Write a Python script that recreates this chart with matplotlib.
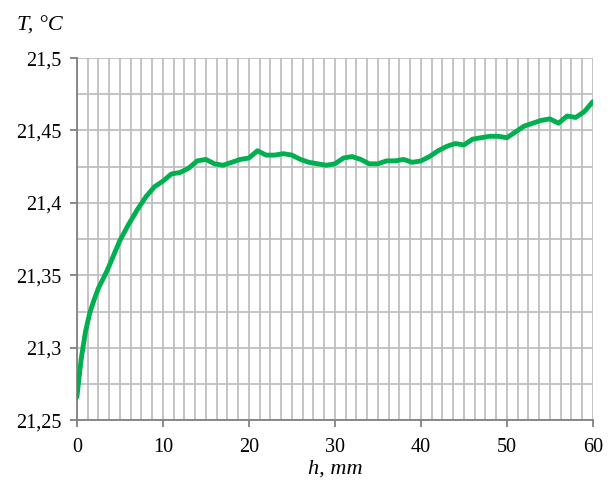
import matplotlib
matplotlib.use("Agg")
import matplotlib.pyplot as plt
import numpy as np

# Data: temperature vs. distance (denser at the start where the curve bends)
h_mm = [0, 0.5, 1, 1.5, 2, 2.5, 3, 3.5, 4, 5, 6, 7, 8, 9,
        10, 11, 12, 13, 14, 15, 16, 17, 18, 19,
        20, 21, 22, 23, 24, 25, 26, 27, 28, 29,
        30, 31, 32, 33, 34, 35, 36, 37, 38, 39,
        40, 41, 42, 43, 44, 45, 46, 47, 48, 49,
        50, 51, 52, 53, 54, 55, 56, 57, 58, 59, 60]
temp = [21.266, 21.292, 21.311, 21.324, 21.333, 21.341, 21.347, 21.353, 21.360, 21.374,
        21.385, 21.395, 21.404, 21.411,
        21.415, 21.420, 21.421, 21.424, 21.429, 21.430, 21.427, 21.426, 21.428, 21.430,
        21.431, 21.436, 21.433, 21.433, 21.434, 21.433, 21.430, 21.428, 21.427, 21.426,
        21.427, 21.431, 21.432, 21.430, 21.427, 21.427, 21.429, 21.429, 21.430, 21.428,
        21.429, 21.432, 21.436, 21.439, 21.441, 21.440, 21.444, 21.445, 21.446, 21.446,
        21.445, 21.449, 21.453, 21.455, 21.457, 21.458, 21.455, 21.460, 21.459, 21.463,
        21.470]

y_ticks = [21.25, 21.3, 21.35, 21.4, 21.45, 21.5]
y_labels = ["21,25", "21,3", "21,35", "21,4", "21,45", "21,5"]
x_ticks = [0, 10, 20, 30, 40, 50, 60]

plt.rcParams['font.family'] = ['Liberation Serif', 'DejaVu Serif']

fig = plt.figure(figsize=(6.1, 4.84), dpi=100)
ax = fig.add_axes([0.126, 0.132, 0.846, 0.748])

# Grid lines (major + minor), drawn under the curve
ax.set_xticks(np.arange(0, 60.01, 1.25), minor=True)
ax.set_yticks(np.arange(21.25, 21.501, 0.025), minor=True)
ax.grid(True, which='both', color='#bfbfbf', linewidth=1.3)
ax.set_axisbelow(True)

ax.plot(h_mm, temp, color='#00b050', linewidth=3.5, solid_capstyle='round',
        solid_joinstyle='round', zorder=3)

ax.set_xlim(0, 60)
ax.set_ylim(21.25, 21.5)
ax.set_xticks(x_ticks)
ax.set_yticks(y_ticks)
ax.set_yticklabels(y_labels)
ax.tick_params(axis='both', which='major', labelsize=14.5, length=5, width=1.3,
               color='#808080', direction='out', pad=6)
ax.tick_params(axis='x', which='major', pad=8)
ax.tick_params(axis='both', which='minor', length=0)

for s in ['top', 'right']:
    ax.spines[s].set_visible(False)
for s in ['left', 'bottom']:
    ax.spines[s].set_color('#808080')
    ax.spines[s].set_linewidth(1.3)

fig.text(0.028, 0.946, 'T, °C', fontsize=16, style='italic', ha='left', va='center')
ax.set_xlabel('h, mm', fontsize=16, style='italic', labelpad=2)

plt.savefig('out.png', dpi=100)
